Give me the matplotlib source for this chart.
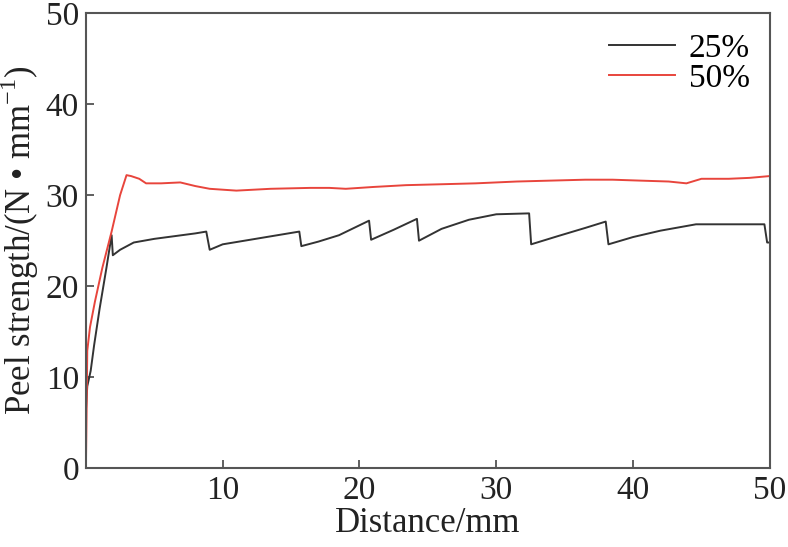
import matplotlib
matplotlib.use("Agg")
import matplotlib.pyplot as plt

# 25% series
x25 = [0.0, 0.1, 0.35, 0.6, 1.0, 1.5, 1.88, 1.97, 2.5, 3.5, 5.0, 6.5, 8.0, 8.8, 9.05,
       10.0, 12.0, 14.0, 15.6, 15.75, 17.0, 18.5, 20.7, 20.85, 22.5, 24.2, 24.35,
       26.0, 28.0, 30.0, 32.4, 32.55, 34.5, 36.5, 38.0, 38.2, 40.0, 42.0, 44.6,
       47.0, 49.6, 49.8, 50.0]
y25 = [6.3, 9.0, 10.7, 13.5, 17.5, 22.0, 25.6, 23.4, 24.0, 24.8, 25.2, 25.5, 25.8, 26.0, 24.0,
       24.6, 25.1, 25.6, 26.0, 24.4, 24.9, 25.6, 27.2, 25.1, 26.2, 27.4, 25.0,
       26.3, 27.3, 27.9, 28.0, 24.6, 25.5, 26.4, 27.1, 24.6, 25.4, 26.1, 26.8,
       26.8, 26.8, 24.8, 24.8]

# 50% series
x50 = [0.0, 0.05, 0.1, 0.3, 0.66, 1.2, 1.88, 2.5, 2.97, 3.3, 3.9, 4.4, 5.5, 6.9, 8.0,
       9.05, 11.0, 13.5, 16.4, 17.8, 19.0, 21.0, 23.4, 26.0, 28.5, 31.5, 34.0, 36.5,
       38.5, 40.5, 42.6, 43.9, 45.0, 47.0, 48.5, 50.0]
y50 = [0.0, 6.0, 12.9, 15.5, 18.3, 22.0, 26.0, 30.0, 32.2, 32.1, 31.8, 31.3, 31.3, 31.4, 31.0,
       30.7, 30.5, 30.7, 30.8, 30.8, 30.7, 30.9, 31.1, 31.2, 31.3, 31.5, 31.6, 31.7,
       31.7, 31.6, 31.5, 31.3, 31.8, 31.8, 31.9, 32.1]

plt.rcParams['font.family'] = ['Liberation Serif', 'DejaVu Serif']
plt.rcParams['mathtext.fontset'] = 'custom'
plt.rcParams['mathtext.rm'] = 'Liberation Serif'

fig = plt.figure(figsize=(7.88, 5.47), dpi=100)
ax = fig.add_axes([0.109, 0.144, 0.868, 0.832])

ax.plot(x25, y25, color='#333333', linewidth=1.4, label='25%')
ax.plot(x50, y50, color='#e8453c', linewidth=1.4, label='50%')

ax.set_xlim(0, 50)
ax.set_ylim(0, 50)
ax.set_xticks([10, 20, 30, 40, 50])
ax.set_yticks([0, 10, 20, 30, 40, 50])
ax.tick_params(direction='in', length=6, width=1.2, colors='#444444',
               labelsize=24, labelcolor='#222222', top=False, right=False, pad=5)

for s in ax.spines.values():
    s.set_color('#555555')
    s.set_linewidth(1.5)

ax.set_xlabel('Distance/mm', fontsize=25, color='#222222', labelpad=1)
ax.set_ylabel('Peel strength/(N • mm$^{\\mathregular{-1}}$)', fontsize=25,
              color='#222222', labelpad=3)

ax.legend(loc='upper right', frameon=False, fontsize=24, handlelength=2.0,
          handletextpad=0.4, labelspacing=0.0, borderaxespad=0.2)

plt.savefig('out.png', dpi=100)
